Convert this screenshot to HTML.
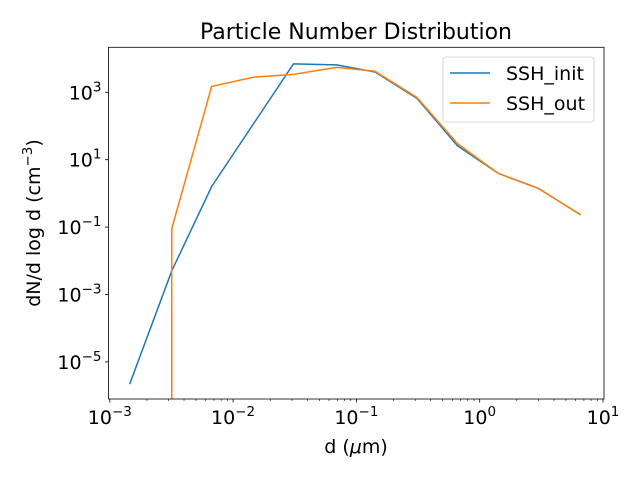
<!DOCTYPE html>
<html><head><meta charset="utf-8"><style>
body{margin:0;background:#fff}
svg{font-family:"DejaVu Sans","Liberation Sans",sans-serif}
</style></head><body>
<svg id="chart" width="640" height="480" viewBox="0 0 640 480">
<rect width="640" height="480" fill="#fff"/>
<text x="356" y="39" font-size="22" text-anchor="middle">Particle Number Distribution</text>
<g id="plot"></g>
</svg>
<script>
const diameters = [0.00145, 0.00318, 0.0067, 0.0146, 0.0309, 0.069, 0.142, 0.31, 0.66, 1.42, 3.0, 6.6];
const initValues = [2.2e-6, 5e-3, 1.6, null, 7000, 6500, 4000, 660, 26, 3.9, 1.4, 0.23];
const outDiameters = [0.00318, 0.00318, 0.0067, 0.0146, 0.0309, 0.069, 0.142, 0.31, 0.66, 1.42, 3.0, 6.6];
const outValues = [1e-9, 0.09, 1500, 2800, 3400, 5500, 4200, 700, 30, 3.9, 1.4, 0.23];
const xTicks = [-3, -2, -1, 0, 1];
const yTicks = [-5, -3, -1, 1, 3];
const seriesNames = ["SSH_init", "SSH_out"];

const L=108.5, R=604, T=47.3, B=399;
const X0=109.8, XD=123.3, Y3=92.3, YD=33.7;
const xs = d => X0 + (Math.log10(d)+3)*XD;
const ys = v => Y3 - (Math.log10(v)-3)*YD;
const NS="http://www.w3.org/2000/svg";
const g=document.getElementById('plot');
function mk(tag,attrs,parent){const e=document.createElementNS(NS,tag);for(const k in attrs)e.setAttribute(k,attrs[k]);(parent||g).appendChild(e);return e;}

const defs=mk('defs',{});
const cp=mk('clipPath',{id:'clip'},defs);
mk('rect',{x:L,y:T,width:R-L,height:B-T},cp);

function line(xv,yv,color,name){
  const pts=[];
  xv.forEach((d,i)=>{ if(yv[i]!=null) pts.push(xs(d).toFixed(2)+','+ys(yv[i]).toFixed(2)); });
  const p=mk('polyline',{points:pts.join(' '),fill:'none',stroke:color,'stroke-width':1.5,'clip-path':'url(#clip)','stroke-linejoin':'round'});
  
  
}
line(diameters,initValues,'#1f77b4','series-ssh-init');
line(outDiameters,outValues,'#ff7f0e','series-ssh-out');

const frame=mk('rect',{x:L,y:T,width:R-L,height:B-T,fill:'none',stroke:'#000','stroke-width':0.8});



const FS=19, SS=13.5;
xTicks.forEach(e=>{
  const x=X0+(e+3)*XD;
  mk('line',{x1:x,x2:x,y1:B,y2:B+3.5,stroke:'#000','stroke-width':0.8});
  const t=mk('text',{x:x,y:B+25,'font-size':FS,'text-anchor':'middle'});
  
  
  t.innerHTML='10<tspan dy="-8" font-size="'+SS+'">'+(e<0?'\u2212'+(-e):e)+'</tspan>';
  if(e<1) for(let m=2;m<10;m++){
    const xm=x+Math.log10(m)*XD;
    mk('line',{x1:xm,x2:xm,y1:B,y2:B+2,stroke:'#000','stroke-width':0.6});
  }
});
yTicks.forEach(e=>{
  const y=Y3-(e-3)*YD;
  mk('line',{x1:L,x2:L-3.5,y1:y,y2:y,stroke:'#000','stroke-width':0.8});
  const t=mk('text',{x:L-7,y:y+7,'font-size':FS,'text-anchor':'end'});
  
  
  t.innerHTML='10<tspan dy="-8" font-size="'+SS+'">'+(e<0?'\u2212'+(-e):e)+'</tspan>';
});
const xl=mk('text',{x:356,y:453,'font-size':FS,'text-anchor':'middle'});


xl.innerHTML='d (<tspan font-style="italic">μ</tspan>m)';
const yl=mk('text',{x:0,y:0,'font-size':FS,'text-anchor':'middle',transform:'translate(40,223) rotate(-90)'});


yl.innerHTML='dN/d log d (cm<tspan dy="-8" font-size="'+SS+'">\u22123</tspan><tspan dy="8">)</tspan>';

const lg=mk('g',{});


mk('rect',{x:443,y:57,width:151,height:65,rx:3,fill:'#fff','fill-opacity':0.8,stroke:'#ccc','stroke-width':0.8},lg);
const colors=['#1f77b4','#ff7f0e'];
seriesNames.forEach((n,i)=>{
  const y=73+i*30;
  const e=mk('g',{},lg);
  
  
  mk('line',{x1:450,x2:490,y1:y,y2:y,stroke:colors[i],'stroke-width':1.5},e);
  const t=mk('text',{x:506,y:y+7,'font-size':FS},e);
  t.textContent=n;
});
</script>
</body></html>
